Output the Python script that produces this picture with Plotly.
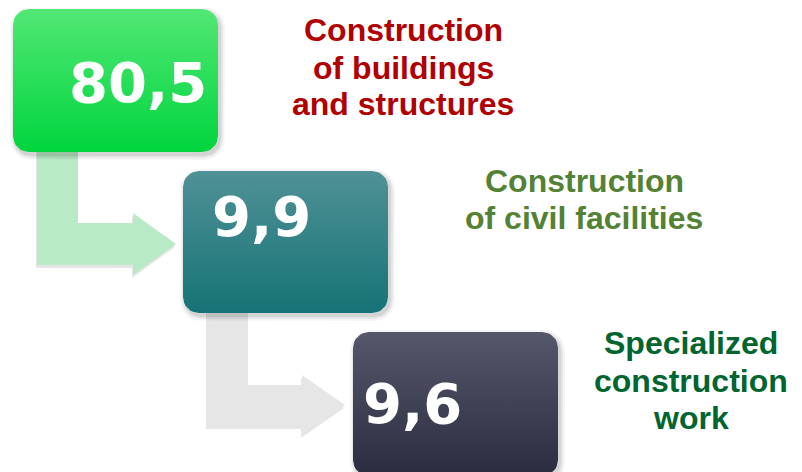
"""
Структура строительных работ: три блока со стрелками (доля, %).
"""
import math

import plotly.graph_objects as go

# ===== данные =====
values = [80.5, 9.9, 9.6]
label_lines = [
    ["Construction", "of buildings", "and structures"],
    ["Construction", "of civil facilities"],
    ["Specialized", "construction", "work"],
]

# ===== оформление =====
box_top = ["#52e774", "#4f9196", "#55576a"]
box_bottom = ["#00d53e", "#167375", "#2a2c3f"]
label_colors = ["#b00000", "#548235", "#00652e"]
arrow_colors = ["#b9eac6", "#e6e6e6"]

# позиции блоков (пиксели окна: x0, y0, x1, y1)
boxes = [(13, 9, 218, 152), (183, 171, 388, 313), (353, 332, 558, 476)]
number_pos = [(138, 82), (261, 216), (412, 403)]
label_x = [403, 584, 691]
label_y = [[30, 68, 104], [181, 218], [343, 381, 418]]

W, H = 802, 472
PAD = 8  # отступ body в странице


def rounded_rect(x0, y0, x1, y1, r=16, n=8):
    xs, ys = [], []
    corners = [(x1 - r, y0 + r, -90, 0), (x1 - r, y1 - r, 0, 90),
               (x0 + r, y1 - r, 90, 180), (x0 + r, y0 + r, 180, 270)]
    for cx, cy, a0, a1 in corners:
        for i in range(n + 1):
            a = math.radians(a0 + (a1 - a0) * i / n)
            xs.append(cx + r * math.cos(a))
            ys.append(cy + r * math.sin(a))
    xs.append(xs[0])
    ys.append(ys[0])
    return xs, ys


def bent_arrow(sx0, sx1, top, shaft_top, shaft_bot, head_x, head_top, head_bot, tip_x):
    mid = (head_top + head_bot) / 2
    xs = [sx0, sx1, sx1, head_x, head_x, tip_x, head_x, head_x, sx0, sx0]
    ys = [top, top, shaft_top, shaft_top, head_top, mid, head_bot, shaft_bot, shaft_bot, top]
    return xs, ys


arrows = [
    (37, 78, 148, 223, 265, 133, 213, 275, 176),
    (207, 248, 310, 385, 426, 302, 375, 435, 345),
]

fig = go.Figure()

# стрелки (с лёгкой тенью)
for a, color in zip(arrows, arrow_colors):
    xs, ys = bent_arrow(*a)
    fig.add_trace(go.Scatter(
        x=[x - 1 for x in xs], y=[y + 3 for y in ys], fill="toself", mode="lines",
        line=dict(width=0), fillcolor="rgba(0,0,0,0.10)", hoverinfo="skip",
    ))
    fig.add_trace(go.Scatter(
        x=xs, y=ys, fill="toself", mode="lines",
        line=dict(width=0), fillcolor=color, hoverinfo="skip",
    ))

# блоки с градиентом
for (x0, y0, x1, y1), c0, c1 in zip(boxes, box_top, box_bottom):
    for k, alpha in [(5, 0.04), (3, 0.06), (1, 0.08)]:
        sx, sy = rounded_rect(x0 - k + 2, y0 - k + 3, x1 + k + 2, y1 + k + 3, r=16 + k)
        fig.add_trace(go.Scatter(
            x=sx, y=sy, fill="toself", mode="lines", line=dict(width=0),
            fillcolor=f"rgba(0,0,0,{alpha})", hoverinfo="skip",
        ))
    bx, by = rounded_rect(x0, y0, x1, y1)
    fig.add_trace(go.Scatter(
        x=bx, y=by, fill="toself", mode="lines", line=dict(width=0),
        fillgradient=dict(type="vertical", start=y0, stop=y1,
                          colorscale=[[0, c0], [1, c1]]),
        hoverinfo="skip",
    ))

annotations = []
for v, (nx, ny) in zip(values, number_pos):
    annotations.append(dict(
        x=nx, y=ny, text=f"<b>{v:.1f}</b>".replace(".", ","),
        showarrow=False, xanchor="center", yanchor="middle",
        font=dict(family="DejaVu Sans", size=56, color="white"),
    ))

for lines, lx, lys, color in zip(label_lines, label_x, label_y, label_colors):
    for line, ly in zip(lines, lys):
        annotations.append(dict(
            x=lx, y=ly, text=f"<b>{line}</b>",
            showarrow=False, xanchor="center", yanchor="middle",
            font=dict(family="Liberation Sans, Arial", size=32, color=color),
        ))

fig.update_layout(
    width=W - PAD, height=H - PAD,
    margin=dict(l=0, r=0, t=0, b=0),
    xaxis=dict(range=[PAD, W], visible=False, fixedrange=True),
    yaxis=dict(range=[H, PAD], visible=False, fixedrange=True),
    showlegend=False,
    plot_bgcolor="white",
    paper_bgcolor="white",
    annotations=annotations,
)

fig.write_html("out.html")
